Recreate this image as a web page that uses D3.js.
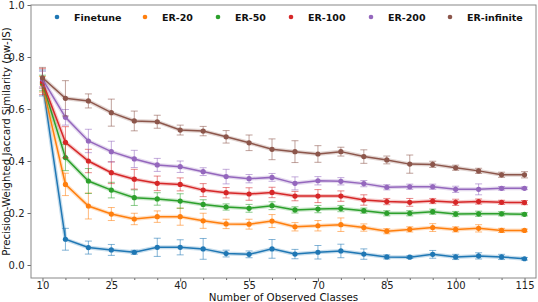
<!DOCTYPE html>
<html>
<head>
<meta charset="utf-8">
<script src="https://cdn.jsdelivr.net/npm/d3@7"></script>
<style>
  body { margin: 0; background: white; }
  text { font-family: "DejaVu Sans", sans-serif; }
</style>
</head>
<body>
<div id="container"></div>
<script>
let w = 538;
let h = 302;
let margin = {left: 31, right: 2, top: 5, bottom: 24};

// DATA
let classes = [10, 15, 20, 25, 30, 35, 40, 45, 50, 55, 60, 65, 70, 75, 80, 85, 90, 95, 100, 105, 110, 115];
let seriesNames = ["Finetune", "ER-20", "ER-50", "ER-100", "ER-200", "ER-infinite"];
let colors = ["#1f77b4", "#ff7f0e", "#2ca02c", "#d62728", "#9467bd", "#8c564b"];

let finetune = [0.700, 0.099, 0.067, 0.058, 0.049, 0.068, 0.068, 0.062, 0.044, 0.041, 0.062, 0.042, 0.049, 0.054, 0.042, 0.031, 0.030, 0.041, 0.031, 0.035, 0.031, 0.024];
let finetuneErr = [0.050, 0.042, 0.025, 0.021, 0.008, 0.035, 0.029, 0.040, 0.013, 0.013, 0.036, 0.018, 0.026, 0.026, 0.020, 0.008, 0.005, 0.015, 0.010, 0.012, 0.010, 0.005];

let er20 = [0.695, 0.310, 0.227, 0.196, 0.177, 0.186, 0.186, 0.170, 0.158, 0.157, 0.169, 0.147, 0.151, 0.155, 0.144, 0.130, 0.137, 0.144, 0.137, 0.141, 0.133, 0.133];
let er20Err = [0.030, 0.043, 0.050, 0.025, 0.022, 0.022, 0.033, 0.029, 0.018, 0.019, 0.025, 0.016, 0.020, 0.026, 0.014, 0.010, 0.010, 0.015, 0.010, 0.014, 0.008, 0.005];

let er50 = [0.700, 0.413, 0.323, 0.288, 0.259, 0.254, 0.246, 0.233, 0.223, 0.218, 0.228, 0.212, 0.215, 0.217, 0.209, 0.199, 0.199, 0.205, 0.196, 0.197, 0.197, 0.195];
let er50Err = [0.030, 0.050, 0.048, 0.030, 0.030, 0.024, 0.028, 0.018, 0.012, 0.015, 0.015, 0.012, 0.014, 0.012, 0.010, 0.010, 0.010, 0.010, 0.010, 0.010, 0.008, 0.006];

let er100 = [0.705, 0.472, 0.400, 0.355, 0.330, 0.314, 0.310, 0.288, 0.278, 0.273, 0.279, 0.265, 0.265, 0.265, 0.250, 0.244, 0.241, 0.246, 0.241, 0.244, 0.241, 0.240];
let er100Err = [0.050, 0.060, 0.045, 0.042, 0.038, 0.028, 0.025, 0.025, 0.020, 0.024, 0.020, 0.018, 0.025, 0.020, 0.020, 0.012, 0.015, 0.010, 0.012, 0.010, 0.008, 0.008];

let er200 = [0.715, 0.568, 0.477, 0.436, 0.408, 0.385, 0.378, 0.359, 0.340, 0.332, 0.337, 0.314, 0.324, 0.322, 0.313, 0.299, 0.301, 0.301, 0.291, 0.291, 0.295, 0.295];
let er200Err = [0.030, 0.030, 0.045, 0.040, 0.033, 0.025, 0.022, 0.015, 0.028, 0.016, 0.015, 0.025, 0.016, 0.014, 0.012, 0.010, 0.010, 0.010, 0.012, 0.021, 0.007, 0.005];

let erInf = [0.720, 0.641, 0.631, 0.586, 0.554, 0.551, 0.519, 0.515, 0.493, 0.470, 0.445, 0.436, 0.427, 0.436, 0.417, 0.404, 0.388, 0.387, 0.374, 0.362, 0.347, 0.347];
let erInfErr = [0.040, 0.068, 0.027, 0.052, 0.038, 0.025, 0.019, 0.018, 0.024, 0.030, 0.040, 0.042, 0.032, 0.017, 0.026, 0.015, 0.035, 0.012, 0.010, 0.010, 0.010, 0.012];

let xTicks = [10, 25, 40, 55, 70, 85, 100, 115];
let yTicks = [0.0, 0.2, 0.4, 0.6, 0.8, 1.0];

let means = [finetune, er20, er50, er100, er200, erInf];
let errs = [finetuneErr, er20Err, er50Err, er100Err, er200Err, erInfErr];

// SVG
let viz = d3.select("#container").append("svg")
    .attr("width", w)
    .attr("height", h)
;

let xScale = d3.scaleLinear().domain([7.5, 117.5]).range([margin.left, w - margin.right]);
let yScale = d3.scaleLinear().domain([-0.05, 1.0]).range([h - margin.bottom, margin.top]);

// AXES
let xAxis = d3.axisBottom(xScale).tickValues(xTicks).tickFormat(d3.format("d")).tickSize(3.5).tickPadding(0.5);
let xMinor = d3.axisBottom(xScale).tickValues(classes.filter(d => !xTicks.includes(d))).tickFormat("").tickSize(2);
let yAxis = d3.axisLeft(yScale).tickValues(yTicks).tickFormat(d3.format(".1f")).tickSize(3.5).tickPadding(3);

let gx = viz.append("g").attr("transform", `translate(0,${h - margin.bottom})`).call(xAxis);
viz.append("g").attr("transform", `translate(0,${h - margin.bottom})`).call(xMinor)
   .call(g => g.select(".domain").remove());
let gy = viz.append("g").attr("transform", `translate(${margin.left},0)`).call(yAxis);

[gx, gy].forEach(g => {
  g.select(".domain").remove();
  g.selectAll("text").attr("font-size", 10).attr("fill", "#222");
});
viz.selectAll(".tick line").attr("stroke", "#666");

// frame
viz.append("rect")
    .attr("x", margin.left)
    .attr("y", margin.top)
    .attr("width", w - margin.left - margin.right)
    .attr("height", h - margin.top - margin.bottom)
    .attr("fill", "none")
    .attr("stroke", "#888")
    .attr("stroke-width", 1)
;

// LINES
let lineMaker = d3.line().x((d, i) => xScale(classes[i])).y(d => yScale(d));

means.forEach((series, s) => {
  let g = viz.append("g");
  let err = errs[s];
  let col = colors[s];

  // light halo
  g.append("path")
      .attr("d", lineMaker(series))
      .attr("fill", "none")
      .attr("stroke", col)
      .attr("stroke-opacity", 0.25)
      .attr("stroke-width", 4)
  ;

  // error bars
  series.forEach((v, i) => {
    let x = xScale(classes[i]);
    let y0 = yScale(v - err[i]);
    let y1 = yScale(v + err[i]);
    g.append("line").attr("x1", x).attr("x2", x).attr("y1", y0).attr("y2", y1)
        .attr("stroke", col).attr("stroke-opacity", 0.55).attr("stroke-width", 1);
    [y0, y1].forEach(yy => {
      g.append("line").attr("x1", x - 3.5).attr("x2", x + 3.5).attr("y1", yy).attr("y2", yy)
          .attr("stroke", col).attr("stroke-opacity", 0.55).attr("stroke-width", 1);
    });
  });

  g.append("path")
      .attr("d", lineMaker(series))
      .attr("fill", "none")
      .attr("stroke", col)
      .attr("stroke-width", 1.5)
  ;

  g.selectAll("circle").data(series).enter()
    .append("circle")
      .attr("cx", (d, i) => xScale(classes[i]))
      .attr("cy", d => yScale(d))
      .attr("r", 2.6)
      .attr("fill", col)
  ;
});

// LEGEND
let legendX = [57, 145, 218, 291, 371, 450];
let legend = viz.append("g");
seriesNames.forEach((name, i) => {
  legend.append("circle")
      .attr("cx", legendX[i])
      .attr("cy", 17)
      .attr("r", 2.3)
      .attr("fill", colors[i]);
  legend.append("text")
      .attr("x", legendX[i] + 17)
      .attr("y", 20.5)
      .attr("font-size", 9.5)
      .attr("font-weight", "bold")
      .attr("fill", "#111")
      .text(name);
});

// LABELS
viz.append("text")
    .attr("x", (margin.left + w - margin.right) / 2)
    .attr("y", 300.5)
    .attr("text-anchor", "middle")
    .attr("font-size", 10.3)
    .attr("fill", "#111")
    .text("Number of Observed Classes");

viz.append("text")
    .attr("transform", `translate(10,${(margin.top + h - margin.bottom) / 2}) rotate(-90)`)
    .attr("text-anchor", "middle")
    .attr("font-size", 10.2)
    .attr("fill", "#111")
    .text("Precision-Weighted Jaccard Similarity (pw-JS)");
</script>
</body>
</html>
